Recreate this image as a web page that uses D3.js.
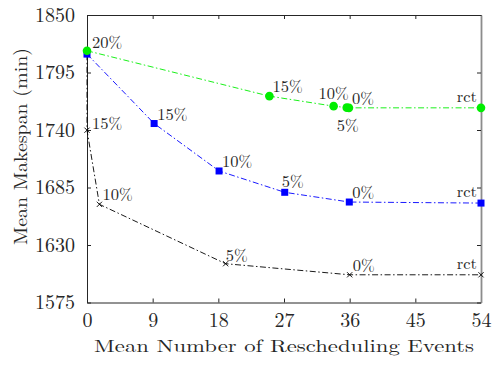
<!DOCTYPE html>
<html>
<head>
<meta charset="utf-8">
<script src="https://cdn.jsdelivr.net/npm/d3@7"></script>
<style>
  body { margin: 0; background: #fff; }
</style>
</head>
<body>
<svg id="chart" width="492" height="365"></svg>
<script>
// values
const rateLabels = ["20%", "15%", "10%", "5%", "0%", "rct"];

const greenX = [0, 25, 33.8, 35.6, 35.9, 54];
const greenY = [1815.8, 1772.4, 1762.8, 1761.4, 1761.2, 1761.2];

const blueX = [0, 9.2, 18.1, 27.1, 35.95, 54];
const blueY = [1812.6, 1746.2, 1700.8, 1680.4, 1671.1, 1670.1];

const blackX = [0, 0, 1.7, 19, 36, 54];
const blackY = [1812.4, 1739.8, 1668.9, 1612.1, 1601.5, 1601.5];

const xTicks = [0, 9, 18, 27, 36, 45, 54];
const yTicks = [1575, 1630, 1685, 1740, 1795, 1850];

const FONT = "\"Latin Modern Roman\", \"Liberation Serif\", serif";
const INK = "#262626";
const LEFT = 87, RIGHT = 481, TOP = 15, BOTTOM = 302.5;
const TICK = 4;

const svg = d3.select("#chart");

const x = d3.scaleLinear().domain([0, 54]).range([LEFT, RIGHT]);
const y = d3.scaleLinear().domain([1575, 1850]).range([BOTTOM, TOP]);

function styleAxis(g, domainColor, domainWidth) {
    g.style("font-family", FONT);
    g.select(".domain").attr("stroke", domainColor).attr("stroke-width", domainWidth || 1);
    g.selectAll(".tick line").attr("stroke", INK);
    g.selectAll(".tick text").attr("font-size", 20).style("font-family", FONT).attr("fill", INK);
}

// axes (ticks point inward, like matlab)
svg.append("g")
    .attr("transform", "translate(0," + BOTTOM + ")")
    .call(d3.axisBottom(x).tickValues(xTicks).tickFormat(d3.format("d"))
        .tickSizeInner(-TICK).tickSizeOuter(0).tickPadding(10))
    .call(g => styleAxis(g, INK));

svg.append("g")
    .attr("transform", "translate(" + LEFT + ",0)")
    .call(d3.axisLeft(y).tickValues(yTicks).tickFormat(d3.format("d"))
        .tickSizeInner(-TICK).tickSizeOuter(0).tickPadding(12))
    .call(g => styleAxis(g, INK));

// top & right of the box
svg.append("g")
    .attr("transform", "translate(0," + TOP + ")")
    .call(d3.axisTop(x).tickValues(xTicks).tickSizeInner(-TICK).tickSizeOuter(0).tickFormat(""))
    .call(g => styleAxis(g, INK));

svg.append("g")
    .attr("transform", "translate(" + RIGHT + ",0)")
    .call(d3.axisRight(y).tickValues(yTicks).tickSizeInner(-TICK).tickSizeOuter(0).tickFormat(""))
    .call(g => styleAxis(g, "#8c8c8c", 1.8));

// axis titles (the original latex font runs wider, so stretch to its length)
svg.append("text")
    .attr("x", (LEFT + RIGHT) / 2).attr("y", 352)
    .attr("text-anchor", "middle").attr("font-size", 17.5)
    .attr("textLength", 380).attr("lengthAdjust", "spacingAndGlyphs")
    .style("font-family", FONT).attr("fill", INK)
    .text("Mean Number of Rescheduling Events");

svg.append("text")
    .attr("transform", "translate(27,146.5) rotate(-90)")
    .attr("text-anchor", "middle").attr("font-size", 18)
    .attr("textLength", 197).attr("lengthAdjust", "spacingAndGlyphs")
    .style("font-family", FONT).attr("fill", INK)
    .text("Mean Makespan (min)");

const series = [
    {name: "black", xs: blackX, ys: blackY, color: "#000", marker: "cross", labels: [null, "15%", "10%", "5%", "0%", "rct"]},
    {name: "blue", xs: blueX, ys: blueY, color: "#0000ff", marker: "square", labels: [null, "15%", "10%", "5%", "0%", "rct"]},
    {name: "green", xs: greenX, ys: greenY, color: "#00ee00", marker: "circle", labels: rateLabels}
];

// a few labels were nudged by hand in the original
const nudge = {
    "green-10%": [-15, -7],
    "green-5%": [-10, 23],
    "green-20%": [5, -3],
    "black-15%": [5, -1],
    "blue-5%": [-3, -5],
    "black-5%": [0, -3]
};

const line = d3.line().x(d => x(d[0])).y(d => y(d[1]));

series.forEach(function(s) {
    const pts = s.xs.map((v, i) => [v, s.ys[i]]);

    svg.append("path")
        .datum(pts)
        .attr("d", line)
        .attr("fill", "none")
        .attr("stroke", s.color)
        .attr("stroke-width", 0.9)
        .attr("stroke-dasharray", "6,2.5,1.5,2.5");

    const g = svg.append("g");
    if (s.marker === "circle") {
        g.selectAll("circle").data(pts).join("circle")
            .attr("cx", d => x(d[0])).attr("cy", d => y(d[1]))
            .attr("r", 4.3).attr("fill", s.color);
    } else if (s.marker === "square") {
        g.selectAll("rect").data(pts).join("rect")
            .attr("x", d => x(d[0]) - 3.5).attr("y", d => y(d[1]) - 3.5)
            .attr("width", 7).attr("height", 7).attr("fill", s.color);
    } else {
        g.selectAll("path").data(pts).join("path")
            .attr("d", d => {
                const cx = x(d[0]), cy = y(d[1]), r = 2.6;
                return "M" + (cx - r) + "," + (cy - r) + "L" + (cx + r) + "," + (cy + r) +
                    "M" + (cx - r) + "," + (cy + r) + "L" + (cx + r) + "," + (cy - r);
            })
            .attr("stroke", s.color).attr("stroke-width", 0.9);
    }

    pts.forEach(function(d, i) {
        const lab = s.labels[i];
        if (!lab) return;
        let dx = 3, dy = -4, anchor = "start";
        if (lab === "rct") { dx = -4; dy = -6; anchor = "end"; }
        const key = s.name + "-" + lab;
        if (nudge[key]) { dx = nudge[key][0]; dy = nudge[key][1]; }
        svg.append("text")
            .attr("x", x(d[0]) + dx).attr("y", y(d[1]) + dy)
            .attr("text-anchor", anchor).attr("font-size", 16.5)
            .style("font-family", FONT).attr("fill", INK)
            .text(lab);
    });
});
</script>
</body>
</html>
